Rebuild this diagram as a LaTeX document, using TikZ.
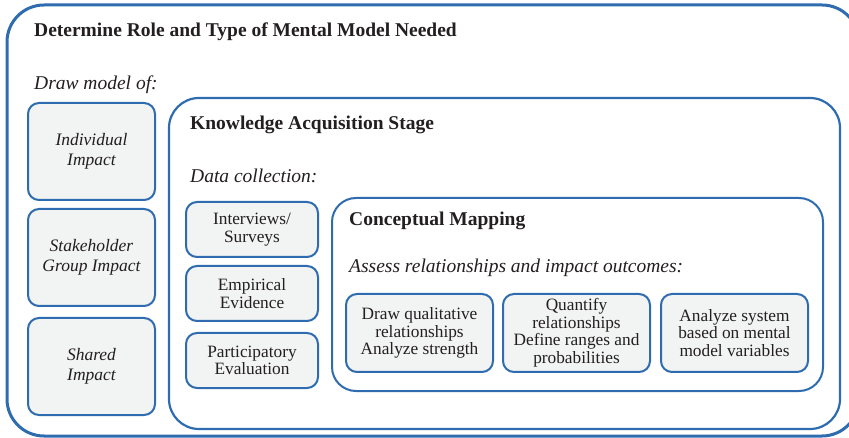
\documentclass[tikz,border=0pt]{standalone}
\usepackage{fontspec}
\setmainfont{Liberation Serif}
\usepackage{tikz}
\usetikzlibrary{positioning}
\definecolor{frameblue}{RGB}{46,108,175}
\definecolor{boxgray}{RGB}{242,243,243}
\definecolor{inkblack}{RGB}{35,31,32}
\tikzstyle{bigframe} = [rectangle, rounded corners=37pt, draw=frameblue, line width=3pt, fill=white]
\tikzstyle{stageframe} = [rectangle, rounded corners=30pt, draw=frameblue, line width=2.2pt, fill=white]
\tikzstyle{mapframe} = [rectangle, rounded corners=24pt, draw=frameblue, line width=2pt, fill=white]
\tikzstyle{item} = [rectangle, rounded corners=11pt, draw=frameblue, line width=2pt, fill=boxgray, text=inkblack, align=center, inner sep=0pt, font=\fontsize{17.3}{17.5}\selectfont]
\tikzstyle{heading} = [anchor=base west, inner sep=0pt, text=inkblack, font=\fontsize{19.5}{21}\selectfont\bfseries]
\tikzstyle{subheading} = [anchor=base west, inner sep=0pt, text=inkblack, font=\fontsize{19.5}{21}\selectfont\itshape]

\begin{document}
\begin{tikzpicture}[x=1pt, y=-1pt]
		\useasboundingbox (0,0) rectangle (849,438);
		\clip (0,0) rectangle (849,438);
		% outer frame
		\node (role) [bigframe, minimum width=852pt, minimum height=431pt] at (433,220.5) {};
		\node (roletitle) [heading] at (34,37) {Determine Role and Type of Mental Model Needed};
		\node (drawof) [subheading] at (34,90) {Draw model of:};
		
		\node (indiv) [item, minimum width=127pt, minimum height=97pt, font=\fontsize{17.5}{19.5}\selectfont\itshape] at (91.5,151.5) {Individual\\Impact};
		\node (group) [item, below=7pt of indiv, minimum width=127pt, minimum height=97pt, font=\fontsize{17.5}{19.5}\selectfont\itshape] {Stakeholder\\Group Impact};
		\node (shared) [item, below=10pt of group, minimum width=127pt, minimum height=97pt, font=\fontsize{17.5}{19.5}\selectfont\itshape] {Shared\\Impact};
		
		% knowledge acquisition
		\node (stage) [stageframe, minimum width=671pt, minimum height=331pt] at (504.5,263.5) {};
		\node (stagetitle) [heading] at (190,130) {Knowledge Acquisition Stage};
		\node (collect) [subheading] at (190,183) {Data collection:};
		
		\node (survey) [item, minimum width=132pt, minimum height=55pt] at (252,229.5) {Interviews/\\Surveys};
		\node (evidence) [item, below=7pt of survey, minimum width=132pt, minimum height=55pt] {Empirical\\Evidence};
		\node (particip) [item, below=10pt of evidence, minimum width=132pt, minimum height=55pt] {Participatory\\Evaluation};
		
		% conceptual mapping
		\node (mapping) [mapframe, minimum width=491pt, minimum height=193pt] at (577.5,294.5) {};
		\node (maptitle) [heading] at (349,226) {Conceptual Mapping};
		\node (assess) [subheading] at (349,273) {Assess relationships and impact outcomes:};
		
		\node (qual) [item, minimum width=147pt, minimum height=78pt] at (419.5,333) {Draw qualitative\\relationships\\Analyze strength};
		\node (quant) [item, right=8pt of qual, minimum width=147pt, minimum height=78pt] {Quantify\\relationships\\Define ranges and\\probabilities};
		\node (system) [item, right=9pt of quant, minimum width=147pt, minimum height=78pt] {Analyze system\\based on mental\\model variables};
		\end{tikzpicture}
\end{document}
